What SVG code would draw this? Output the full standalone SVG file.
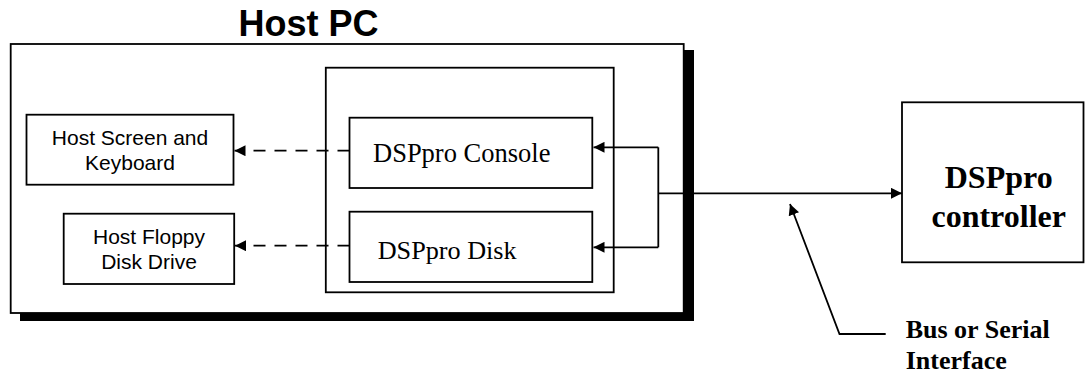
<svg xmlns="http://www.w3.org/2000/svg" width="1085" height="375" viewBox="0 0 1085 375">
<style>
.box{fill:#fff;stroke:#000;stroke-width:1.8}
.sans{font-family:"Liberation Sans",Arial,sans-serif;fill:#000}
.serif{font-family:"Liberation Serif","Times New Roman",serif;fill:#000}
.ln{fill:none;stroke:#000;stroke-width:1.8}
.dash{fill:none;stroke:#000;stroke-width:1.8;stroke-dasharray:12 9}
</style>
<defs>
<marker id="ah" viewBox="0 0 10 10" refX="10" refY="5" markerUnits="userSpaceOnUse" markerWidth="11" markerHeight="11" orient="auto">
<path d="M0,0 L10,5 L0,10 z" fill="#000"/>
</marker>
</defs>
<rect width="1085" height="375" fill="#fff"/>
<g id="host-pc">
<rect x="20" y="50" width="674" height="271" fill="#000"/>
<rect class="box" x="10.7" y="44" width="673" height="269"/>
<text class="sans" x="308.5" y="35.7" font-size="36" font-weight="bold" text-anchor="middle">Host PC</text>
</g>
<g id="dsp-container">
<rect class="box" x="325.8" y="67.7" width="287.9" height="224.6"/>
</g>
<g id="host-screen">
<rect class="box" x="26.5" y="114.7" width="207" height="70"/>
<text class="sans" x="130" y="145" font-size="21" text-anchor="middle">Host Screen and</text>
<text class="sans" x="130" y="170" font-size="21" text-anchor="middle">Keyboard</text>
</g>
<g id="host-floppy">
<rect class="box" x="63.7" y="213.7" width="170.5" height="70.3"/>
<text class="sans" x="149" y="244" font-size="21" text-anchor="middle">Host Floppy</text>
<text class="sans" x="149" y="269.3" font-size="21" text-anchor="middle">Disk Drive</text>
</g>
<g id="dsp-console">
<rect class="box" x="349.5" y="117.7" width="242.8" height="70.3"/>
<text class="serif" x="373" y="162.3" font-size="26.5">DSPpro Console</text>
</g>
<g id="dsp-disk">
<rect class="box" x="349.5" y="211.7" width="242.8" height="70.3"/>
<text class="serif" x="377.7" y="259" font-size="26.2">DSPpro Disk</text>
</g>
<g id="dsp-controller">
<rect class="box" x="902" y="102.3" width="181.5" height="160"/>
<text class="serif" x="998.7" y="188.3" font-size="32" font-weight="bold" text-anchor="middle">DSPpro</text>
<text class="serif" x="998.7" y="226.7" font-size="32" font-weight="bold" text-anchor="middle">controller</text>
</g>
<g id="bus-label">
<text class="serif" x="905.7" y="338.3" font-size="26" font-weight="bold">Bus or Serial</text>
<text class="serif" x="905.7" y="369.3" font-size="26" font-weight="bold">Interface</text>
</g>
<g id="connectors">
<path class="dash" d="M349.5,150.7 H234.5" marker-end="url(#ah)"/>
<path class="dash" d="M349.5,245.7 H235" marker-end="url(#ah)"/>
<path class="ln" d="M658.3,147.3 V247.3"/>
<path class="ln" d="M658.3,147.3 H593.5" marker-end="url(#ah)"/>
<path class="ln" d="M658.3,247.3 H593.5" marker-end="url(#ah)"/>
<path class="ln" d="M658.3,193.3 H902" marker-end="url(#ah)"/>
<path class="ln" d="M885.7,334 H839.5 L790,204" marker-end="url(#ah)"/>
</g>
</svg>
